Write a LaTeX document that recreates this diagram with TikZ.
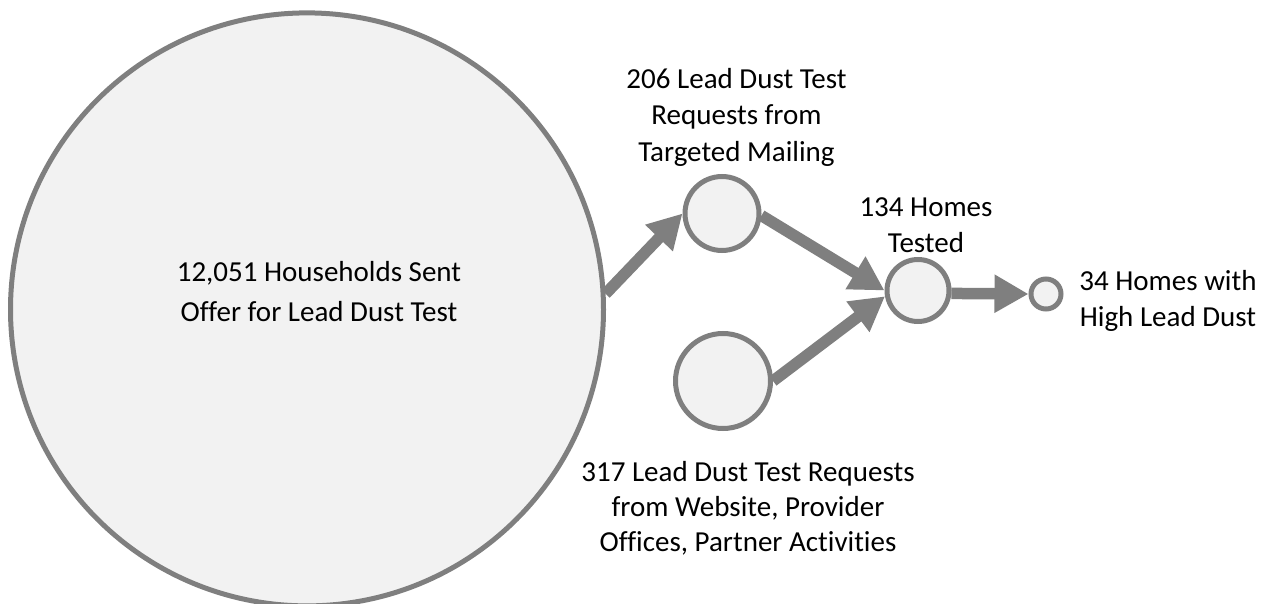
\documentclass[tikz,border=0pt]{standalone}
\usepackage{fontspec}
\setmainfont{Carlito}[Ligatures=NoCommon]
\usetikzlibrary{arrows.meta}
\definecolor{ringgray}{HTML}{7F7F7F}
\definecolor{ringfill}{HTML}{F2F2F2}
\tikzset{
  ring/.style={circle, draw=ringgray, fill=ringfill, line width=5pt, inner sep=0pt},
  flow/.style={draw=ringgray, line width=11.5pt, -{Triangle[length=34pt,width=36pt]}},
  lbl/.style={align=center, inner sep=0pt, font=\fontsize{29}{36.5}\selectfont},
}
\begin{document}
\begin{tikzpicture}[x=1pt,y=-1pt]
\useasboundingbox (0,0) rectangle (1270,604);
\node[ring, minimum size=593pt] (big) at (307,309.4) {};
\node[ring, minimum size=74pt] (A) at (722,213.5) {};
\node[ring, minimum size=95pt] (B) at (723,381) {};
\node[ring, minimum size=62pt] (C) at (918,290.5) {};
\node[ring, minimum size=30pt] (D) at (1046,294) {};
\draw[flow] (big.3) -- (A.west);
\draw[flow] (A.357) -- (C.west);
\draw[flow] (B.east) -- (C.190);
\draw[flow] (C.355) -- (D.west);
\node[lbl, font=\fontsize{29}{40}\selectfont] (tbig) at (319,291.4) {12,051 Households Sent\\Offer for Lead Dust Test};
\node[lbl] (tA) at (736.5,117) {206 Lead Dust Test\\Requests from\\Targeted Mailing};
\node[lbl, font=\fontsize{29}{36}\selectfont] (tC) at (926,225.5) {134 Homes\\Tested};
\node[lbl, font=\fontsize{29}{36}\selectfont] (tD) at (1168,300.9) {34 Homes with\\High Lead Dust};
\node[lbl, font=\fontsize{29}{35}\selectfont] (tB) at (748,508.3) {317 Lead Dust Test Requests\\from Website, Provider\\Offices, Partner Activities};
\end{tikzpicture}
\end{document}
